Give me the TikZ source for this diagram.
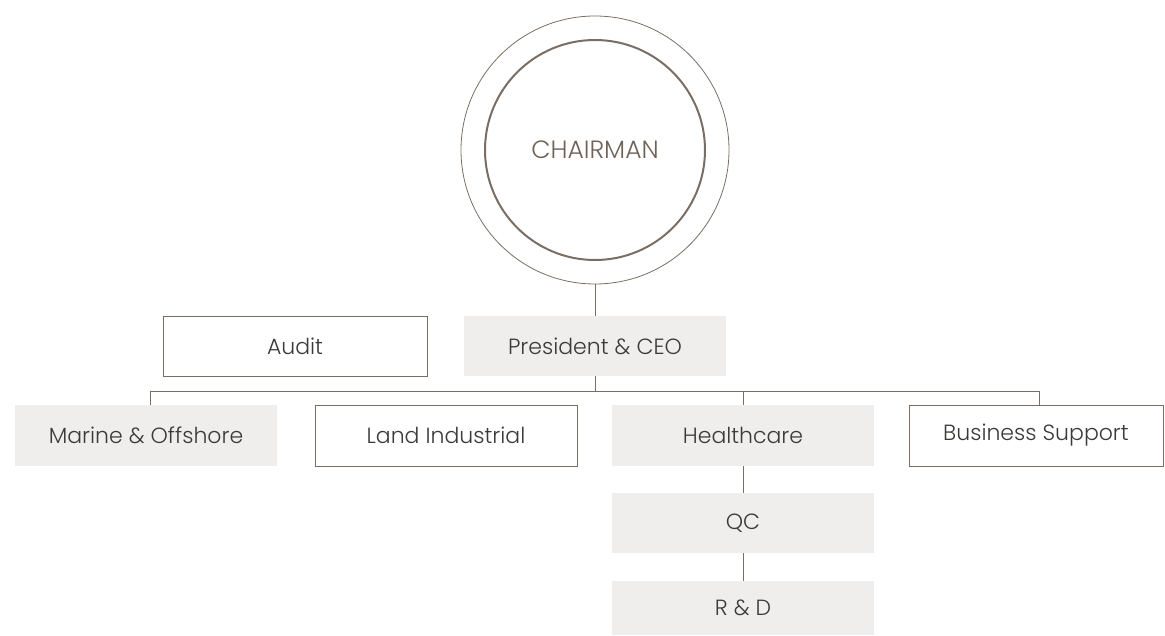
\documentclass[tikz,border=0pt]{standalone}
\usepackage{fontspec}
\setmainfont{Poppins Light}
\definecolor{brd}{HTML}{7A6E64}
\definecolor{gfill}{HTML}{EFEEEC}
\definecolor{txt}{HTML}{3C3A38}
\definecolor{ctxt}{HTML}{6F6358}
\begin{document}
\begin{tikzpicture}[x=1pt,y=-1pt,
  box/.style={rectangle,minimum width=262pt,minimum height=60pt,inner sep=0pt,text=txt,font=\fontsize{22}{26}\selectfont},
  gbox/.style={box,fill=gfill},
  wbox/.style={box,draw=brd,line width=0.9pt,fill=white},
  conn/.style={draw=brd,line width=0.8pt}]
\useasboundingbox (0,0) rectangle (1165,636);
% chairman
\node[circle,draw=brd,line width=0.8pt,minimum size=268pt,inner sep=0pt] (outer) at (595,150) {};
\node[circle,draw=brd,line width=2pt,minimum size=220pt,inner sep=0pt,text=ctxt,font=\fontsize{25}{30}\selectfont] (chair) at (595,150) {CHAIRMAN};
% level 1
\node[wbox,minimum width=264pt] (audit) at (295,346) {Audit};
\node[gbox] (pres) at (595,346) {President \& CEO};
% level 2
\node[gbox,minimum height=61pt] (marine) at (146,435.5) {Marine \& Offshore};
\node[wbox,minimum height=61pt] (land) at (446,435.5) {Land Industrial};
\node[gbox,minimum height=61pt] (health) at (743,435.5) {Healthcare};
\node[wbox,minimum height=61pt,minimum width=254pt] (bus) at (1036,435.5) {Business Support};
\node[gbox] (qc) at (743,523) {QC};
\node[gbox,minimum height=54pt] (rd) at (743,608) {R \& D};
% connectors
\coordinate (busL) at (150,391);
\coordinate (busR) at (1039,391);
\coordinate (busP) at (595,391);
\draw[conn] (outer.south) -- (pres.north);
\draw[conn] (pres.south) -- (busP);
\draw[conn] (busL) -- (busR);
\draw[conn] (busL) -- (busL |- marine.north);
\draw[conn] (busP -| health.north) -- (health.north);
\draw[conn] (busR) -- (busR |- bus.north);
\draw[conn] (health.south) -- (qc.north);
\draw[conn] (qc.south) -- (rd.north);
\end{tikzpicture}
\end{document}
